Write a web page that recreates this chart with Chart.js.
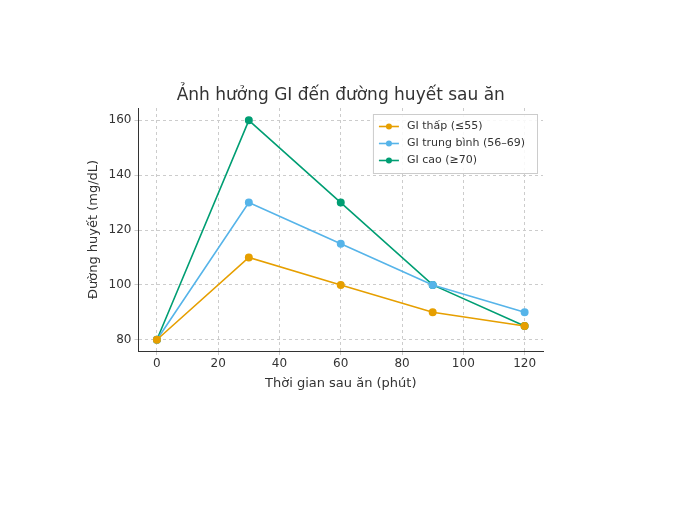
<!DOCTYPE html>
<html>
<head>
<meta charset="utf-8">
<script src="https://cdn.jsdelivr.net/npm/chart.js@4"></script>
<style>
  html, body { margin: 0; padding: 0; background: #fff; }
  #wrap { width: 696px; height: 531px; }
</style>
</head>
<body>
<div id="wrap"><canvas id="chart"></canvas></div>
<script>
// Dữ liệu
const thoiGian = [0, 30, 60, 90, 120];
const giThap = [80, 110, 100, 90, 85];
const giTrungBinh = [80, 130, 115, 100, 90];
const giCao = [80, 160, 130, 100, 85];

const toXY = (ys) => thoiGian.map((x, i) => ({ x, y: ys[i] }));

const FONT = 'DejaVu Sans';
const TITLE = 'Ảnh hưởng GI đến đường huyết sau ăn';

// Tiêu đề + chú giải vẽ tay
const overlay = {
  id: 'overlay',
  afterDraw(chart) {
    const c = chart.ctx, a = chart.chartArea;
    c.save();
    c.fillStyle = '#333';
    c.font = `17px ${FONT}`;
    c.textAlign = 'center';
    c.textBaseline = 'bottom';
    c.fillText(TITLE, (a.left + a.right) / 2, a.top - 4);

    c.font = `11px ${FONT}`;
    const sets = chart.data.datasets;
    const w = Math.max(...sets.map(d => c.measureText(d.label).width)) + 46;
    const rowH = 17, h = sets.length * rowH + 8;
    const x0 = a.right - w - 6, y0 = a.top + 6;
    c.fillStyle = 'rgba(255,255,255,0.85)';
    c.fillRect(x0, y0, w, h);
    c.strokeStyle = '#cccccc';
    c.lineWidth = 1;
    c.strokeRect(x0 + 0.5, y0 + 0.5, w, h);
    c.textAlign = 'left';
    c.textBaseline = 'middle';
    sets.forEach((d, i) => {
      const y = y0 + 4 + rowH * i + rowH / 2;
      c.strokeStyle = d.borderColor;
      c.lineWidth = 1.6;
      c.beginPath(); c.moveTo(x0 + 6, y); c.lineTo(x0 + 26, y); c.stroke();
      c.fillStyle = d.borderColor;
      c.beginPath(); c.arc(x0 + 16, y, 3, 0, Math.PI * 2); c.fill();
      c.fillStyle = '#333';
      c.fillText(d.label, x0 + 34, y);
    });
    c.restore();
  }
};

const mkSet = (label, data, color) => ({
  label, data: toXY(data),
  borderColor: color, backgroundColor: color,
  borderWidth: 1.6, pointRadius: 3.2, pointHoverRadius: 4, tension: 0
});

new Chart(document.getElementById('chart'), {
  type: 'line',
  data: {
    datasets: [
      mkSet('GI thấp (≤55)', giThap, '#E69F00'),
      mkSet('GI trung bình (56–69)', giTrungBinh, '#56B4E9'),
      mkSet('GI cao (≥70)', giCao, '#009E73')
    ]
  },
  options: {
    responsive: true,
    maintainAspectRatio: false,
    animation: false,
    layout: { padding: { left: 82, right: 153, top: 108, bottom: 138 } },
    plugins: {
      title: { display: false },
      legend: { display: false },
      tooltip: { enabled: false }
    },
    scales: {
      x: {
        type: 'linear', min: -6, max: 126,
        afterBuildTicks: (s) => { s.ticks = [0, 20, 40, 60, 80, 100, 120].map(v => ({ value: v })); },
        ticks: { color: '#333', font: { family: FONT, size: 12 }, padding: 2 },
        grid: { color: '#cccccc', tickLength: 4 },
        border: { color: '#333', dash: [3, 3] },
        title: { display: true, text: 'Thời gian sau ăn (phút)', color: '#333', font: { family: FONT, size: 13 }, padding: 2 }
      },
      y: {
        min: 75.9, max: 164.5,
        afterBuildTicks: (s) => { s.ticks = [80, 100, 120, 140, 160].map(v => ({ value: v })); },
        ticks: { color: '#333', font: { family: FONT, size: 12 } },
        grid: { color: '#cccccc', tickLength: 4 },
        border: { color: '#333', dash: [3, 3] },
        title: { display: true, text: 'Đường huyết (mg/dL)', color: '#333', font: { family: FONT, size: 13 } }
      }
    }
  },
  plugins: [overlay]
});
</script>
</body>
</html>
